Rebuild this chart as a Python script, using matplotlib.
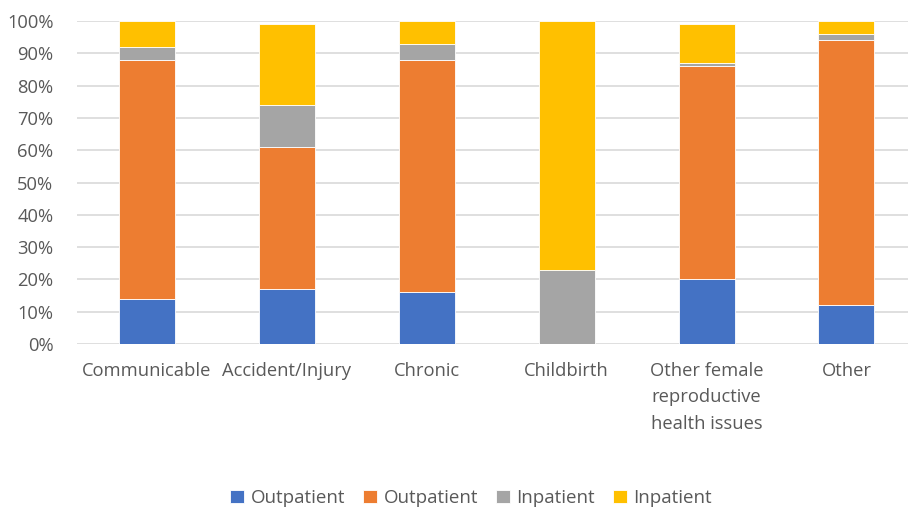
import matplotlib.pyplot as plt
import numpy as np

categories = ["Communicable", "Accident/Injury", "Chronic", "Childbirth",
              "Other female\nreproductive\nhealth issues", "Other"]
series_names = ["Outpatient", "Outpatient", "Inpatient", "Inpatient"]
outpatient_a = [14, 17, 16, 0, 20, 12]
outpatient_b = [74, 44, 72, 0, 66, 82]
inpatient_a = [4, 13, 5, 23, 1, 2]
inpatient_b = [8, 25, 7, 77, 12, 4]
colors = ["#4472C4", "#ED7D31", "#A5A5A5", "#FFC000"]

plt.rcParams['font.family'] = ['Open Sans', 'DejaVu Sans']

fig = plt.figure(figsize=(9.09, 5.08), dpi=100)
ax = fig.add_axes([77 / 909, 1 - 344 / 508, (908 - 77) / 909, (344 - 21) / 508])

x = np.arange(len(categories))
bottom = np.zeros(len(categories))
for vals, name, col in zip([outpatient_a, outpatient_b, inpatient_a, inpatient_b], series_names, colors):
    ax.bar(x, vals, 0.4, bottom=bottom, color=col, label=name, edgecolor="white", linewidth=0.6, zorder=3)
    bottom += np.array(vals)

ax.set_xlim(-0.5, 5.44)
ax.set_ylim(0, 100)
ax.set_yticks(range(0, 101, 10))
ax.set_yticklabels([f"{v}%" for v in range(0, 101, 10)])
ax.set_xticks(x)
ax.set_xticklabels(categories, linespacing=1.6)
ax.yaxis.grid(True, color="#d9d9d9", linewidth=1.2, zorder=0)
for s in ax.spines.values():
    s.set_visible(False)
ax.tick_params(axis="both", length=0, labelsize=13.2, colors="#595959")
ax.tick_params(axis="y", pad=17)
ax.tick_params(axis="x", pad=13)

fig.legend(loc="center", bbox_to_anchor=(471 / 909, 1 - 498 / 508), ncol=4, frameon=False,
           fontsize=13.5, handlelength=0.75, handleheight=0.75, handletextpad=0.35, columnspacing=0.95,
           labelcolor="#595959")

fig.savefig("out.png", dpi=100)
